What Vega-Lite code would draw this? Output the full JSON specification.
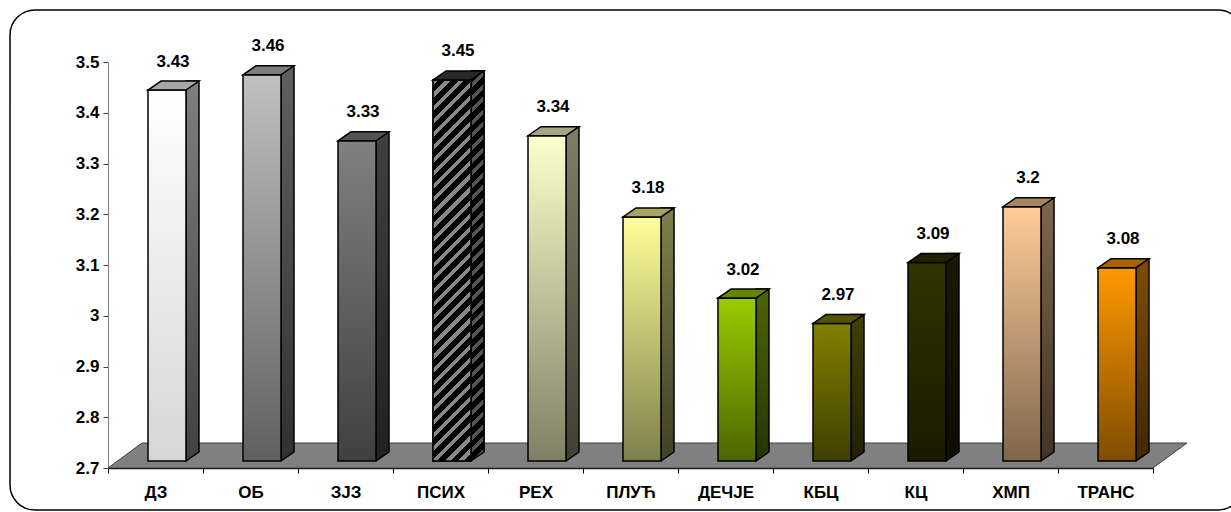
{
  "$schema": "https://vega.github.io/schema/vega-lite/v6.json",
  "width": 1233,
  "height": 500,
  "autosize": {"type": "none"},
  "padding": {"left": 10, "top": 10, "right": -12, "bottom": 2},
  "background": "white",
  "config": {
    "view": {"stroke": "black", "strokeWidth": 1.5, "cornerRadius": 25, "fill": "white"},
    "font": "Liberation Sans"
  },
  "data": {
    "values": [
      {"cat": "ДЗ", "v": 3.43},
      {"cat": "ОБ", "v": 3.46},
      {"cat": "ЗЈЗ", "v": 3.33},
      {"cat": "ПСИХ", "v": 3.45},
      {"cat": "РЕХ", "v": 3.34},
      {"cat": "ПЛУЋ", "v": 3.18},
      {"cat": "ДЕЧЈЕ", "v": 3.02},
      {"cat": "КБЦ", "v": 2.97},
      {"cat": "КЦ", "v": 3.09},
      {"cat": "ХМП", "v": 3.2},
      {"cat": "ТРАНС", "v": 3.08}
    ]
  },
  "encoding": {
    "x": {
      "field": "cat", "type": "nominal", "sort": null,
      "scale": {"domain": ["ДЗ", "ОБ", "ЗЈЗ", "ПСИХ", "РЕХ", "ПЛУЋ", "ДЕЧЈЕ", "КБЦ", "КЦ", "ХМП", "ТРАНС"], "range": [98, 1143], "paddingInner": 0, "paddingOuter": 0},
      "axis": {"title": null, "orient": "bottom", "offset": -42, "tickBand": "extent", "labelAngle": 0, "labelFont": "Liberation Sans", "labelFontSize": 17, "labelFontWeight": "bold", "labelColor": "black", "labelPadding": 11, "tickSize": 5, "tickColor": "black", "tickWidth": 1, "domainColor": "black", "domainWidth": 1.5, "grid": false}
    },
    "y": {
      "field": "v", "type": "quantitative",
      "scale": {"domain": [2.7, 3.5], "range": [458, 52], "nice": false, "zero": false},
      "axis": {"title": null, "offset": -98, "values": [2.7, 2.8, 2.9, 3, 3.1, 3.2, 3.3, 3.4, 3.5], "format": "~g", "labelFont": "Liberation Sans", "labelFontSize": 17, "labelFontWeight": "bold", "labelColor": "black", "labelPadding": 4, "tickSize": 5, "tickColor": "#404040", "domainColor": "#808080", "grid": false}
    }
  },
  "layer": [
    {
      "transform": [{"filter": "datum.cat === 'ПЛУЋ'"}],
      "mark": {"type": "point", "shape": "M-0.87083,0L0.87083,0L0.9275,-0.041667L-0.81417,-0.041667Z", "size": 1440000, "filled": true, "fill": "#808080", "stroke": "#404040", "strokeWidth": 1, "opacity": 1},
      "encoding": {"y": {"datum": 2.7}}
    },
    {
      "mark": {"type": "bar", "width": 13, "xOffset": 37, "yOffset": -16.5, "y2Offset": -7},
      "encoding": {
        "y2": {"datum": 2.7},
        "fill": {"field": "cat", "type": "nominal", "scale": {"domain": ["ДЗ", "ОБ", "ЗЈЗ", "ПСИХ", "РЕХ", "ПЛУЋ", "ДЕЧЈЕ", "КБЦ", "КЦ", "ХМП", "ТРАНС"], "range": ["#ffffff", "#c0c0c0", "#808080", "#404040", "#ffffcc", "#ffff99", "#99cc00", "#808000", "#333300", "#ffcc99", "#ff9900"]}, "legend": null}
      }
    },
    {
      "mark": {"type": "bar", "width": 13, "xOffset": 37, "yOffset": -16.5, "y2Offset": -7, "stroke": "black", "strokeWidth": 1.5,
        "fill": {"gradient": "linear", "x1": 0, "y1": 0, "x2": 0, "y2": 1, "stops": [{"offset": 0, "color": "rgba(0,0,0,0.5)"}, {"offset": 1, "color": "rgba(0,0,0,0.75)"}]}},
      "encoding": {"y2": {"datum": 2.7}}
    },
    {
      "transform": [{"filter": "datum.cat === 'ПСИХ'"}],
      "mark": {"type": "bar", "width": 13, "xOffset": 37, "yOffset": -16.5, "y2Offset": -7, "stroke": "black", "strokeWidth": 1.5,
        "fill": {"gradient": "linear", "x1": 0, "y1": 0, "x2": 0.0344, "y2": 1.0323, "stops": [
{"offset":0,"color":"#555"},{"offset":0.0125,"color":"#555"},{"offset":0.0125,"color":"#000"},{"offset":0.03125,"color":"#000"},
{"offset":0.03125,"color":"#555"},{"offset":0.04375,"color":"#555"},{"offset":0.04375,"color":"#000"},{"offset":0.0625,"color":"#000"},
{"offset":0.0625,"color":"#555"},{"offset":0.075,"color":"#555"},{"offset":0.075,"color":"#000"},{"offset":0.09375,"color":"#000"},
{"offset":0.09375,"color":"#555"},{"offset":0.10625,"color":"#555"},{"offset":0.10625,"color":"#000"},{"offset":0.125,"color":"#000"},
{"offset":0.125,"color":"#555"},{"offset":0.1375,"color":"#555"},{"offset":0.1375,"color":"#000"},{"offset":0.15625,"color":"#000"},
{"offset":0.15625,"color":"#555"},{"offset":0.16875,"color":"#555"},{"offset":0.16875,"color":"#000"},{"offset":0.1875,"color":"#000"},
{"offset":0.1875,"color":"#555"},{"offset":0.2,"color":"#555"},{"offset":0.2,"color":"#000"},{"offset":0.21875,"color":"#000"},
{"offset":0.21875,"color":"#555"},{"offset":0.23125,"color":"#555"},{"offset":0.23125,"color":"#000"},{"offset":0.25,"color":"#000"},
{"offset":0.25,"color":"#555"},{"offset":0.2625,"color":"#555"},{"offset":0.2625,"color":"#000"},{"offset":0.28125,"color":"#000"},
{"offset":0.28125,"color":"#555"},{"offset":0.29375,"color":"#555"},{"offset":0.29375,"color":"#000"},{"offset":0.3125,"color":"#000"},
{"offset":0.3125,"color":"#555"},{"offset":0.325,"color":"#555"},{"offset":0.325,"color":"#000"},{"offset":0.34375,"color":"#000"},
{"offset":0.34375,"color":"#555"},{"offset":0.35625,"color":"#555"},{"offset":0.35625,"color":"#000"},{"offset":0.375,"color":"#000"},
{"offset":0.375,"color":"#555"},{"offset":0.3875,"color":"#555"},{"offset":0.3875,"color":"#000"},{"offset":0.40625,"color":"#000"},
{"offset":0.40625,"color":"#555"},{"offset":0.41875,"color":"#555"},{"offset":0.41875,"color":"#000"},{"offset":0.4375,"color":"#000"},
{"offset":0.4375,"color":"#555"},{"offset":0.45,"color":"#555"},{"offset":0.45,"color":"#000"},{"offset":0.46875,"color":"#000"},
{"offset":0.46875,"color":"#555"},{"offset":0.48125,"color":"#555"},{"offset":0.48125,"color":"#000"},{"offset":0.5,"color":"#000"},
{"offset":0.5,"color":"#555"},{"offset":0.5125,"color":"#555"},{"offset":0.5125,"color":"#000"},{"offset":0.53125,"color":"#000"},
{"offset":0.53125,"color":"#555"},{"offset":0.54375,"color":"#555"},{"offset":0.54375,"color":"#000"},{"offset":0.5625,"color":"#000"},
{"offset":0.5625,"color":"#555"},{"offset":0.575,"color":"#555"},{"offset":0.575,"color":"#000"},{"offset":0.59375,"color":"#000"},
{"offset":0.59375,"color":"#555"},{"offset":0.60625,"color":"#555"},{"offset":0.60625,"color":"#000"},{"offset":0.625,"color":"#000"},
{"offset":0.625,"color":"#555"},{"offset":0.6375,"color":"#555"},{"offset":0.6375,"color":"#000"},{"offset":0.65625,"color":"#000"},
{"offset":0.65625,"color":"#555"},{"offset":0.66875,"color":"#555"},{"offset":0.66875,"color":"#000"},{"offset":0.6875,"color":"#000"},
{"offset":0.6875,"color":"#555"},{"offset":0.7,"color":"#555"},{"offset":0.7,"color":"#000"},{"offset":0.71875,"color":"#000"},
{"offset":0.71875,"color":"#555"},{"offset":0.73125,"color":"#555"},{"offset":0.73125,"color":"#000"},{"offset":0.75,"color":"#000"},
{"offset":0.75,"color":"#555"},{"offset":0.7625,"color":"#555"},{"offset":0.7625,"color":"#000"},{"offset":0.78125,"color":"#000"},
{"offset":0.78125,"color":"#555"},{"offset":0.79375,"color":"#555"},{"offset":0.79375,"color":"#000"},{"offset":0.8125,"color":"#000"},
{"offset":0.8125,"color":"#555"},{"offset":0.825,"color":"#555"},{"offset":0.825,"color":"#000"},{"offset":0.84375,"color":"#000"},
{"offset":0.84375,"color":"#555"},{"offset":0.85625,"color":"#555"},{"offset":0.85625,"color":"#000"},{"offset":0.875,"color":"#000"},
{"offset":0.875,"color":"#555"},{"offset":0.8875,"color":"#555"},{"offset":0.8875,"color":"#000"},{"offset":0.90625,"color":"#000"},
{"offset":0.90625,"color":"#555"},{"offset":0.91875,"color":"#555"},{"offset":0.91875,"color":"#000"},{"offset":0.9375,"color":"#000"},
{"offset":0.9375,"color":"#555"},{"offset":0.95,"color":"#555"},{"offset":0.95,"color":"#000"},{"offset":0.96875,"color":"#000"},
{"offset":0.96875,"color":"#555"},{"offset":0.98125,"color":"#555"},{"offset":0.98125,"color":"#000"},{"offset":1,"color":"#000"}
        ]}},
      "encoding": {"y2": {"datum": 2.7}}
    },
    {
      "mark": {"type": "point", "shape": "M0.45,0.025L0.8375,-0.2375L0.8375,0.025Z", "size": 6400, "filled": true, "fill": "#808080", "strokeWidth": 0, "opacity": 1, "xOffset": 11.5, "yOffset": -7},
      "encoding": {"y": {"datum": 2.7}}
    },
    {
      "mark": {"type": "point", "shape": "M0.475,0L0.8,-0.225", "size": 6400, "filled": false, "stroke": "black", "strokeWidth": 1.5, "opacity": 1, "xOffset": 11.5, "yOffset": -7},
      "encoding": {"y": {"datum": 2.7}}
    },
    {
      "mark": {"type": "bar", "width": 38, "xOffset": 11.5, "yOffset": -7.5, "y2Offset": -7},
      "encoding": {
        "y2": {"datum": 2.7},
        "fill": {"field": "cat", "type": "nominal", "scale": {"domain": ["ДЗ", "ОБ", "ЗЈЗ", "ПСИХ", "РЕХ", "ПЛУЋ", "ДЕЧЈЕ", "КБЦ", "КЦ", "ХМП", "ТРАНС"], "range": ["#ffffff", "#c0c0c0", "#808080", "#404040", "#ffffcc", "#ffff99", "#99cc00", "#808000", "#333300", "#ffcc99", "#ff9900"]}, "legend": null}
      }
    },
    {
      "transform": [{"filter": "datum.cat !== 'ДЗ'"}],
      "mark": {"type": "bar", "width": 38, "xOffset": 11.5, "yOffset": -7.5, "y2Offset": -7, "stroke": "black", "strokeWidth": 1.5,
        "fill": {"gradient": "linear", "x1": 0, "y1": 0, "x2": 0, "y2": 1, "stops": [{"offset": 0, "color": "rgba(0,0,0,0)"}, {"offset": 1, "color": "rgba(0,0,0,0.5)"}]}},
      "encoding": {"y2": {"datum": 2.7}}
    },
    {
      "transform": [{"filter": "datum.cat === 'ДЗ'"}],
      "mark": {"type": "bar", "width": 38, "xOffset": 11.5, "yOffset": -7.5, "y2Offset": -7, "stroke": "black", "strokeWidth": 1.5,
        "fill": {"gradient": "linear", "x1": 0, "y1": 0, "x2": 0, "y2": 1, "stops": [{"offset": 0, "color": "rgba(0,0,0,0)"}, {"offset": 1, "color": "rgba(0,0,0,0.16)"}]}},
      "encoding": {"y2": {"datum": 2.7}}
    },
    {
      "transform": [{"filter": "datum.cat === 'ПСИХ'"}],
      "mark": {"type": "bar", "width": 38, "xOffset": 11.5, "yOffset": -7.5, "y2Offset": -7, "stroke": "black", "strokeWidth": 1.5,
        "fill": {"gradient": "linear", "x1": 0, "y1": 0, "x2": 0.1086, "y2": 1.0889, "stops": [
{"offset":0,"color":"#888"},{"offset":0.0125,"color":"#888"},{"offset":0.0125,"color":"#000"},{"offset":0.03125,"color":"#000"},
{"offset":0.03125,"color":"#888"},{"offset":0.04375,"color":"#888"},{"offset":0.04375,"color":"#000"},{"offset":0.0625,"color":"#000"},
{"offset":0.0625,"color":"#888"},{"offset":0.075,"color":"#888"},{"offset":0.075,"color":"#000"},{"offset":0.09375,"color":"#000"},
{"offset":0.09375,"color":"#888"},{"offset":0.10625,"color":"#888"},{"offset":0.10625,"color":"#000"},{"offset":0.125,"color":"#000"},
{"offset":0.125,"color":"#888"},{"offset":0.1375,"color":"#888"},{"offset":0.1375,"color":"#000"},{"offset":0.15625,"color":"#000"},
{"offset":0.15625,"color":"#888"},{"offset":0.16875,"color":"#888"},{"offset":0.16875,"color":"#000"},{"offset":0.1875,"color":"#000"},
{"offset":0.1875,"color":"#888"},{"offset":0.2,"color":"#888"},{"offset":0.2,"color":"#000"},{"offset":0.21875,"color":"#000"},
{"offset":0.21875,"color":"#888"},{"offset":0.23125,"color":"#888"},{"offset":0.23125,"color":"#000"},{"offset":0.25,"color":"#000"},
{"offset":0.25,"color":"#888"},{"offset":0.2625,"color":"#888"},{"offset":0.2625,"color":"#000"},{"offset":0.28125,"color":"#000"},
{"offset":0.28125,"color":"#888"},{"offset":0.29375,"color":"#888"},{"offset":0.29375,"color":"#000"},{"offset":0.3125,"color":"#000"},
{"offset":0.3125,"color":"#888"},{"offset":0.325,"color":"#888"},{"offset":0.325,"color":"#000"},{"offset":0.34375,"color":"#000"},
{"offset":0.34375,"color":"#888"},{"offset":0.35625,"color":"#888"},{"offset":0.35625,"color":"#000"},{"offset":0.375,"color":"#000"},
{"offset":0.375,"color":"#888"},{"offset":0.3875,"color":"#888"},{"offset":0.3875,"color":"#000"},{"offset":0.40625,"color":"#000"},
{"offset":0.40625,"color":"#888"},{"offset":0.41875,"color":"#888"},{"offset":0.41875,"color":"#000"},{"offset":0.4375,"color":"#000"},
{"offset":0.4375,"color":"#888"},{"offset":0.45,"color":"#888"},{"offset":0.45,"color":"#000"},{"offset":0.46875,"color":"#000"},
{"offset":0.46875,"color":"#888"},{"offset":0.48125,"color":"#888"},{"offset":0.48125,"color":"#000"},{"offset":0.5,"color":"#000"},
{"offset":0.5,"color":"#888"},{"offset":0.5125,"color":"#888"},{"offset":0.5125,"color":"#000"},{"offset":0.53125,"color":"#000"},
{"offset":0.53125,"color":"#888"},{"offset":0.54375,"color":"#888"},{"offset":0.54375,"color":"#000"},{"offset":0.5625,"color":"#000"},
{"offset":0.5625,"color":"#888"},{"offset":0.575,"color":"#888"},{"offset":0.575,"color":"#000"},{"offset":0.59375,"color":"#000"},
{"offset":0.59375,"color":"#888"},{"offset":0.60625,"color":"#888"},{"offset":0.60625,"color":"#000"},{"offset":0.625,"color":"#000"},
{"offset":0.625,"color":"#888"},{"offset":0.6375,"color":"#888"},{"offset":0.6375,"color":"#000"},{"offset":0.65625,"color":"#000"},
{"offset":0.65625,"color":"#888"},{"offset":0.66875,"color":"#888"},{"offset":0.66875,"color":"#000"},{"offset":0.6875,"color":"#000"},
{"offset":0.6875,"color":"#888"},{"offset":0.7,"color":"#888"},{"offset":0.7,"color":"#000"},{"offset":0.71875,"color":"#000"},
{"offset":0.71875,"color":"#888"},{"offset":0.73125,"color":"#888"},{"offset":0.73125,"color":"#000"},{"offset":0.75,"color":"#000"},
{"offset":0.75,"color":"#888"},{"offset":0.7625,"color":"#888"},{"offset":0.7625,"color":"#000"},{"offset":0.78125,"color":"#000"},
{"offset":0.78125,"color":"#888"},{"offset":0.79375,"color":"#888"},{"offset":0.79375,"color":"#000"},{"offset":0.8125,"color":"#000"},
{"offset":0.8125,"color":"#888"},{"offset":0.825,"color":"#888"},{"offset":0.825,"color":"#000"},{"offset":0.84375,"color":"#000"},
{"offset":0.84375,"color":"#888"},{"offset":0.85625,"color":"#888"},{"offset":0.85625,"color":"#000"},{"offset":0.875,"color":"#000"},
{"offset":0.875,"color":"#888"},{"offset":0.8875,"color":"#888"},{"offset":0.8875,"color":"#000"},{"offset":0.90625,"color":"#000"},
{"offset":0.90625,"color":"#888"},{"offset":0.91875,"color":"#888"},{"offset":0.91875,"color":"#000"},{"offset":0.9375,"color":"#000"},
{"offset":0.9375,"color":"#888"},{"offset":0.95,"color":"#888"},{"offset":0.95,"color":"#000"},{"offset":0.96875,"color":"#000"},
{"offset":0.96875,"color":"#888"},{"offset":0.98125,"color":"#888"},{"offset":0.98125,"color":"#000"},{"offset":1,"color":"#000"}
        ]}},
      "encoding": {"y2": {"datum": 2.7}}
    },
    {
      "mark": {"type": "point", "shape": "M-0.475,0L0.475,0L0.8,-0.225L-0.15,-0.225Z", "size": 6400, "filled": true, "opacity": 1, "strokeWidth": 0, "xOffset": 11.5, "yOffset": -7.5},
      "encoding": {
        "fill": {"field": "cat", "type": "nominal", "scale": {"domain": ["ДЗ", "ОБ", "ЗЈЗ", "ПСИХ", "РЕХ", "ПЛУЋ", "ДЕЧЈЕ", "КБЦ", "КЦ", "ХМП", "ТРАНС"], "range": ["#ffffff", "#c0c0c0", "#808080", "#404040", "#ffffcc", "#ffff99", "#99cc00", "#808000", "#333300", "#ffcc99", "#ff9900"]}, "legend": null}
      }
    },
    {
      "mark": {"type": "point", "shape": "M-0.475,0L0.475,0L0.8,-0.225L-0.15,-0.225Z", "size": 6400, "filled": true, "opacity": 1, "fill": "black", "fillOpacity": 0.35, "stroke": "black", "strokeWidth": 1.5, "strokeOpacity": 1, "xOffset": 11.5, "yOffset": -7.5}
    },
    {
      "mark": {"type": "text", "font": "Liberation Sans", "fontSize": 17, "fontWeight": "bold", "color": "black", "baseline": "middle", "align": "center", "xOffset": 17.5, "yOffset": -36},
      "encoding": {"text": {"field": "v", "type": "quantitative", "format": "~g"}}
    }
  ]
}
